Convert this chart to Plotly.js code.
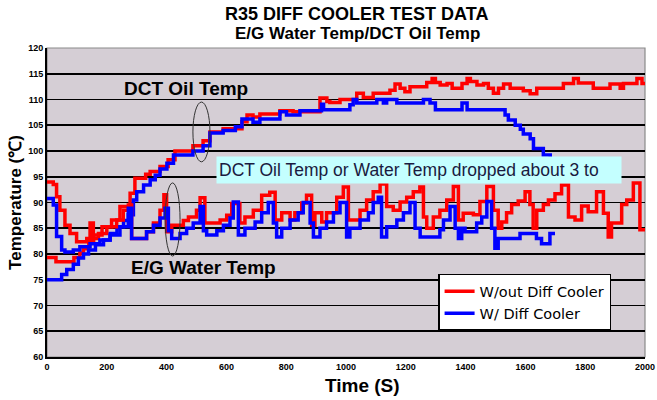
<!DOCTYPE html>
<html><head><meta charset="utf-8">
<script src="https://cdn.plot.ly/plotly-3.0.1.min.js"></script>
<style>html,body{margin:0;padding:0;background:#fff}#chart{width:657px;height:400px}</style>
</head><body><div id="chart"></div>
<script>
// DCT oil temp, without diff cooler (red)
const oilRedT = [0,30,90,110,122,140,156,184,216,244,278,294,330,345,378,405,428,488,522,545,589,652,669,689,712,779,823,913,936,946,980,1036,1058,1091,1147,1164,1181,1197,1214,1270,1288,1299,1315,1338,1355,1388,1405,1416,1438,1460,1476,1493,1510,1527,1549,1593,1616,1638,1727,1761,1777,1827,1883,1917,1928,1973,1990,2000];
const oilRedV = [79.3,78.5,79.3,80.2,81,82.4,83.7,85.3,86.6,89.2,91.8,94.7,95.5,96,97,98.3,100,101,102,103.7,104.3,105.7,107,106.6,107.2,107.8,107.6,110.3,109.6,109.4,110,111.2,110.4,111.2,111.8,113,112.2,111.5,112.5,113.3,114.1,113.3,112.8,113.1,112.2,113.1,114.1,113.5,112.8,113.1,112.2,111.2,112.2,113,112.2,111.7,111.1,112.2,113.1,114.1,113.2,112.2,113,112.2,113.1,114.1,113.1,113.1];
// DCT oil temp, with diff cooler (blue)
const oilBlueT = [0,49,66,88,105,122,139,162,189,211,234,256,272,289,300,323,345,362,378,401,423,488,522,545,589,630,652,689,712,779,801,846,918,925,1013,1024,1036,1103,1125,1136,1170,1259,1281,1299,1388,1405,1532,1543,1566,1583,1593,1616,1627,1660,1683,1700];
const oilBlueV = [75,76,77,78,79.2,80,80.8,81.8,82.7,84,85.3,86.5,87.6,90.5,92.1,93.4,94.4,95.3,96.5,97.6,99.2,100,101,103.5,104,104.7,106.2,105.6,106.2,107.6,107,107.8,109.1,108,109,110,109.3,110,109.3,110,109.3,110,109.3,108,109.3,108,107,106,105,104.2,103.3,102.4,100.5,99.2,98,97];
// E/G water temp, without diff cooler (red)
const waterRedT = [0,21,32,43,60,77,99,133,144,155,172,200,233,255,272,283,333,356,378,391,400,417,456,473,500,512,528,579,601,618,645,662,690,718,745,763,785,813,829,852,868,885,896,919,935,969,991,1008,1047,1069,1091,1114,1136,1158,1181,1203,1225,1247,1259,1270,1292,1314,1337,1359,1376,1392,1426,1448,1471,1493,1509,1521,1537,1554,1576,1599,1615,1626,1638,1660,1677,1699,1721,1744,1766,1788,1810,1838,1861,1877,1888,1922,1939,1961,1983,2000];
const waterRedV = [94,93.5,91.1,88.5,85.6,84,82.4,83,86,83,84,85.3,86.6,88.5,89.5,83,84.3,86,88.5,91.5,84.3,85.6,86.5,87.2,88.5,90.9,86,86.6,87.5,89.8,86,87.2,88.5,91.4,92,86.6,88,86.6,88,89.9,91.4,85.6,88,86.2,88,91,93,86.6,88.5,90.5,92.1,93.6,89.2,88.5,90.1,91,92.1,93,87.2,85,87.2,88.5,90.5,93.1,86.6,87.9,87.6,90.2,93.1,88.5,85,86.2,88,89.6,90.3,92.1,89.6,85,88.5,89.6,90.5,91.7,93.4,87.2,86.6,89.3,88.2,92.1,87.9,83.3,86,89.6,90.5,93.8,84.7,84.7];
// E/G water temp, with diff cooler (blue)
const waterBlueT = [0,21,32,49,60,88,110,144,177,211,244,272,283,333,356,378,395,406,417,445,467,489,512,523,534,568,590,612,623,640,662,696,718,740,757,768,785,813,840,857,880,891,913,935,958,980,1002,1013,1047,1075,1091,1108,1119,1136,1170,1192,1214,1231,1248,1314,1326,1348,1365,1376,1387,1398,1437,1454,1471,1487,1498,1509,1582,1637,1654,1682,1699];
const waterBlueV = [90.8,89.5,83.4,80.8,80.4,80.8,81.4,82,82.7,83.7,85.3,88.9,83,84.3,85.6,87,88.9,84.5,83,84,85,86,89.2,84.5,83.7,84.5,85.6,87,90.1,83.7,85,86.2,88,90,86,83.3,85,86.6,88,90,86,83.3,85,86.2,88,90,83.3,85,86.6,88,90,91,83.3,85.3,86.6,88,90,85,83.3,84.7,86.6,89.2,85,83,85,84.3,86,87.2,90.2,85,81.1,83,84,83,82,84,84];

const seriesNames = ['W/out Diff Cooler', 'W/ Diff Cooler'];
const xTicks = [0,200,400,600,800,1000,1200,1400,1600,1800,2000];
const yTicks = [60,65,70,75,80,85,90,95,100,105,110,115,120];

const RED = '#ff0000', BLUE = '#0000ff';
const FONT = 'Liberation Sans, Arial, sans-serif';
function tr(x, y, color, name, show) {
  return {x: x, y: y, type: 'scatter', mode: 'lines', name: name, showlegend: show,
    legendgroup: name, line: {color: color, width: 3.5, shape: 'hv'}, hoverinfo: 'skip'};
}
const data = [
  tr(oilRedT, oilRedV, RED, seriesNames[0], true),
  tr(oilBlueT, oilBlueV, BLUE, seriesNames[1], true),
  tr(waterRedT, waterRedV, RED, seriesNames[0], false),
  tr(waterBlueT, waterBlueV, BLUE, seriesNames[1], false)
];
const layout = {
  width: 657, height: 400,
  margin: {l: 47, r: 12, t: 48, b: 43},
  paper_bgcolor: '#ffffff', plot_bgcolor: '#d5ced5',
  font: {family: FONT, color: '#000'},
  title: {text: 'R35 DIFF COOLER TEST DATA',
    x: 0.543, xanchor: 'center', y: 1 - 14/400, yanchor: 'middle', yref: 'container',
    font: {family: FONT, size: 18, color: '#000', weight: 'bold'}},
  xaxis: {range: [0, 2000], tickvals: xTicks, ticktext: xTicks.map(String), showgrid: false, zeroline: false,
    showline: true, linecolor: '#000', linewidth: 2, ticks: '',
    tickfont: {size: 9, family: FONT, weight: 'bold'}},
  yaxis: {range: [60, 120], tickvals: yTicks, ticktext: yTicks.map(String), showgrid: true, gridcolor: '#000', gridwidth: 1.8,
    zeroline: false, showline: true, linecolor: '#000', linewidth: 2, ticks: '',
    tickfont: {size: 9, family: FONT, weight: 'bold'},
    title: {text: 'Temperature (℃)', font: {size: 17, family: FONT, weight: 'bold'}, standoff: 2}},
  legend: {x: 0.654, y: 0.269, xanchor: 'left', yanchor: 'top', bgcolor: '#ffffff', bordercolor: '#000', borderwidth: 1.5,
    font: {size: 14.5, family: 'DejaVu Sans, sans-serif', color: '#000'}, tracegroupgap: 0},
  shapes: [
    {type: 'rect', xref: 'paper', yref: 'paper', x0: 0, x1: 1, y0: 0, y1: 1, line: {color: '#8a8a8a', width: 1.2}, layer: 'below'},
    {type: 'circle', xref: 'x', yref: 'y', x0: 488, x1: 545, y0: 97.9, y1: 109.5, line: {color: '#333', width: 1}},
    {type: 'circle', xref: 'x', yref: 'y', x0: 395, x1: 445, y0: 79.6, y1: 93.8, line: {color: '#333', width: 1}}
  ],
  annotations: [
    {x: 0.5184, y: (357 - 33) / 309, xref: 'paper', yref: 'paper', xanchor: 'center', yanchor: 'middle',
      text: 'E/G Water Temp/DCT Oil Temp', showarrow: false,
      font: {size: 17, family: FONT, weight: 'bold', color: '#000'}},
    {x: 0.528, y: (357 - 385) / 309, xref: 'paper', yref: 'paper', xanchor: 'center', yanchor: 'middle',
      text: 'Time (S)', showarrow: false,
      font: {size: 19, family: FONT, weight: 'bold', color: '#000'}},
    {x: 465, y: 112.2, xref: 'x', yref: 'y', text: 'DCT Oil Temp', showarrow: false,
      font: {size: 19, family: FONT, weight: 'bold', color: '#000'}},
    {x: 522, y: 77.3, xref: 'x', yref: 'y', text: 'E/G Water Temp', showarrow: false,
      font: {size: 19, family: FONT, weight: 'bold', color: '#000'}},
    {x: 0.2826, y: 0.605, xref: 'paper', yref: 'paper', xanchor: 'left', yanchor: 'middle',
      text: 'DCT Oil Temp or Water Temp dropped about 3 to', showarrow: false, align: 'left',
      bgcolor: '#c4ffff', width: 400, height: 22, borderpad: 2,
      font: {size: 17.5, family: FONT, color: '#1a1a40'}}
  ]
};
Plotly.newPlot('chart', data, layout, {displayModeBar: false, staticPlot: true});
</script></body></html>
